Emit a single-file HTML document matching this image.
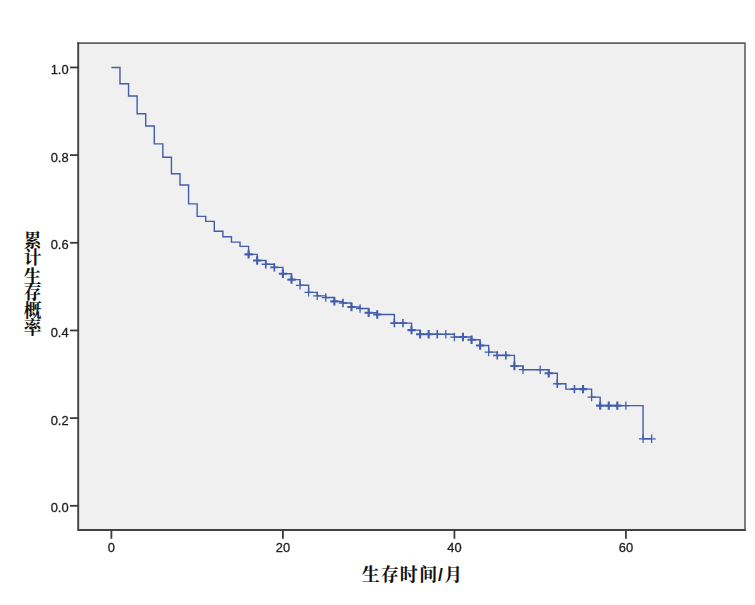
<!DOCTYPE html>
<html lang="zh-CN">
<head>
<meta charset="utf-8">
<title>Kaplan-Meier 生存曲线</title>
<style>
html,body{margin:0;padding:0;background:#fff;}
body{width:755px;height:605px;overflow:hidden;font-family:"Liberation Sans",sans-serif;}
svg{display:block;}
.cjk text{font-family:"Liberation Serif","Noto Serif CJK SC",serif;font-weight:bold;fill:#111;}
.num text{font-family:"Liberation Sans",sans-serif;font-size:12.9px;fill:#1e1e1e;stroke:#1e1e1e;stroke-width:.3px;}
</style>
</head>
<body>
<svg width="755" height="605" viewBox="0 0 755 605" role="img" aria-label="累计生存概率 / 生存时间(月) Kaplan-Meier 曲线">
<rect width="755" height="605" fill="#fff"/>
<!-- plot area -->
<rect x="78.2" y="43.1" width="666.8" height="486.9" fill="#f0f0f0"/>
<g fill="none" stroke-linecap="butt">
<path d="M77.3 43.1H745.8M745.0 43.1V530.8" stroke="#606060" stroke-width="1.6"/>
<path d="M78.2 42.300000000000004V530.9M77.3 530.0H745.8" stroke="#424242" stroke-width="1.9"/>
<g stroke="#3a3a3a" stroke-width="1.8"><path d="M70 505.8H78.2"/><path d="M70 418.13H78.2"/><path d="M70 330.46H78.2"/><path d="M70 242.79H78.2"/><path d="M70 155.12H78.2"/><path d="M70 67.45H78.2"/><path d="M111.4 530V538.8"/><path d="M282.9 530V538.8"/><path d="M454.4 530V538.8"/><path d="M625.9 530V538.8"/></g>
<!-- survival step curve -->
<path d="M111.4 67.5H119.98V83.8H128.55V96H137.12V113.8H145.7V126H154.28V143.9H162.85V157.3H171.43V173.8H180V185H188.57V203.9H197.15V216.4H205.72V221.4H214.3V231.2H222.88V236.8H231.45V242.1H240.03V246.4H248.6V254.4H257.17V260.5H265.75V264.2H274.32V267.4H282.9V273.7H291.48V279.6H300.05V285.3H308.62V292.4H317.2V295.9H325.77V297.5H334.35V301.4H342.92V303H351.5V307H360.07V308.5H368.65V312.7H377.23V314.5H394.38V323.1H411.52V330.1H420.1V334.3H454.4V337H471.55V339.8H480.12V345.5H488.7V352.1H497.27V355.4H514.42V366H523V369.7H548.73V373.2H557.3V383.8H565.88V389.1H591.6V397.1H600.17V405.65H643.05V438.8H651.62" stroke="#425cae" stroke-width="1.4" stroke-linejoin="miter"/>
<!-- censored marks -->
<path d="M295.95 285.3h8.2M300.05 281.1v8.4M304.52 292.4h8.2M308.62 288.2v8.4M313.1 295.9h8.2M317.2 291.7v8.4M321.67 297.5h8.2M325.77 293.3v8.4M355.97 308.5h8.2M360.07 304.3v8.4M441.72 334.3h8.2M445.82 330.1v8.4M450.3 337h8.2M454.4 332.8v8.4M484.6 352.1h8.2M488.7 347.9v8.4M518.9 369.7h8.2M523 365.5v8.4M536.05 369.7h8.2M540.15 365.5v8.4M587.5 397.1h8.2M591.6 392.9v8.4M621.8 405.65h8.2M625.9 401.45v8.4M638.95 438.8h8.2M643.05 434.6v8.4M647.52 438.8h8.2M651.62 434.6v8.4" stroke="#425cae" stroke-width="1.25"/>
<path d="M261.65 264.2h8.2M265.75 260v8.4M270.22 267.4h8.2M274.32 263.2v8.4M338.82 303h8.2M342.92 298.8v8.4M390.27 323.1h8.2M394.38 318.9v8.4M398.85 323.1h8.2M402.95 318.9v8.4M433.15 334.3h8.2M437.25 330.1v8.4M493.17 355.4h8.2M497.27 351.2v8.4M501.75 355.4h8.2M505.85 351.2v8.4M553.2 383.8h8.2M557.3 379.6v8.4M570.35 389.1h8.2M574.45 384.9v8.4" stroke="#425cae" stroke-width="1.6"/>
<path d="M244.5 254.4h8.2M248.6 250.2v8.4M253.07 260.5h8.2M257.17 256.3v8.4M278.8 273.7h8.2M282.9 269.5v8.4M287.38 279.6h8.2M291.48 275.4v8.4M330.25 301.4h8.2M334.35 297.2v8.4M347.4 307h8.2M351.5 302.8v8.4M364.55 312.7h8.2M368.65 308.5v8.4M373.12 314.5h8.2M377.23 310.3v8.4M407.42 330.1h8.2M411.52 325.9v8.4M416 334.3h8.2M420.1 330.1v8.4M424.57 334.3h8.2M428.67 330.1v8.4M458.88 337h8.2M462.98 332.8v8.4M467.45 339.8h8.2M471.55 335.6v8.4M476.02 345.5h8.2M480.12 341.3v8.4M510.32 366h8.2M514.42 361.8v8.4M544.62 373.2h8.2M548.73 369v8.4M578.92 389.1h8.2M583.02 384.9v8.4M596.07 405.65h8.2M600.17 401.45v8.4M604.65 405.65h8.2M608.75 401.45v8.4M613.22 405.65h8.2M617.32 401.45v8.4" stroke="#425cae" stroke-width="2.1"/>
</g>
<g class="num" style="filter:grayscale(1)"><text x="68.6" y="512.4" text-anchor="end">0.0</text><text x="68.6" y="424.73" text-anchor="end">0.2</text><text x="68.6" y="337.06" text-anchor="end">0.4</text><text x="68.6" y="249.39" text-anchor="end">0.6</text><text x="68.6" y="161.72" text-anchor="end">0.8</text><text x="68.6" y="74.05" text-anchor="end">1.0</text><text x="111.4" y="551.7" text-anchor="middle">0</text><text x="282.9" y="551.7" text-anchor="middle">20</text><text x="454.4" y="551.7" text-anchor="middle">40</text><text x="625.9" y="551.7" text-anchor="middle">60</text></g>
<!-- axis titles -->
<g class="cjk" aria-label="累计生存概率"><title>累计生存概率</title>
<text x="32.6" y="246.8" font-size="17.7" text-anchor="middle">累</text>
<text x="32.6" y="263.7" font-size="17.7" text-anchor="middle">计</text>
<text x="32.6" y="282.5" font-size="17.7" text-anchor="middle">生</text>
<text x="32.6" y="299" font-size="17.7" text-anchor="middle">存</text>
<text x="32.6" y="316.5" font-size="17.7" text-anchor="middle">概</text>
<text x="32.6" y="334.4" font-size="17.7" text-anchor="middle">率</text>
</g>
<g class="cjk" aria-label="生存时间/月"><title>生存时间/月</title>
<text x="361.8 380.7 399.8 419.3" y="580.7" font-size="18">生存时间</text>
<text x="438" y="580.7" font-size="17.5" style="font-family:'Liberation Sans',sans-serif;font-weight:bold;">/</text>
<text x="444.2" y="580.7" font-size="18">月</text>
</g>
</svg>
</body>
</html>
